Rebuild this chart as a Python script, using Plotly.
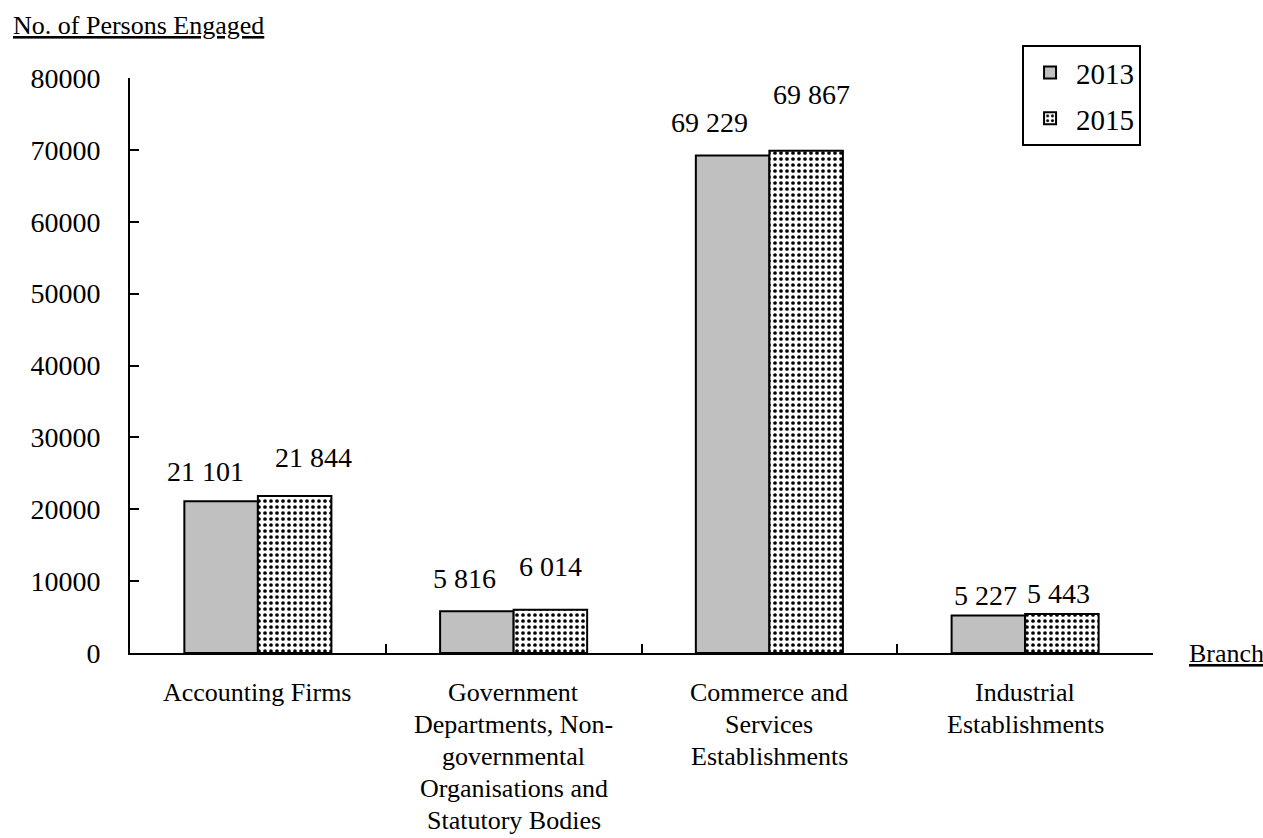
import plotly.graph_objects as go

# Persons engaged by branch, 2013 vs 2015
branches = [
    "Accounting Firms",
    "Government<br>Departments, Non-<br>governmental<br>Organisations and<br>Statutory Bodies",
    "Commerce and<br>Services<br>Establishments",
    "Industrial<br>Establishments",
]
branch_keys = ["Accounting", "Government", "Commerce", "Industrial"]
persons_2013 = [21101, 5816, 69229, 5227]
persons_2015 = [21844, 6014, 69867, 5443]
y_ticks = [0, 10000, 20000, 30000, 40000, 50000, 60000, 70000, 80000]

FONT = "Liberation Serif, Times New Roman, serif"

fig = go.Figure()
fig.add_trace(go.Bar(
    name="2013", x=branch_keys, y=persons_2013, legendgroup="a",
    marker=dict(color="#C0C0C0", line=dict(color="black", width=2)),
))
fig.add_trace(go.Bar(
    name="2015", x=branch_keys, y=persons_2015, legendgroup="b",
    marker=dict(
        color="white",
        line=dict(color="black", width=2),
        pattern=dict(shape=".", fgcolor="black", bgcolor="white",
                     size=6, solidity=0.3, fillmode="replace"),
    ),
))

# value labels above the bars (pixel nudges per label)
half = 36.7
dx13 = [-16, -12, -23, -3]
dx15 = [19, 0, 5, -3]
dy13 = [30, 33, 33, 20]
dy15 = [39, 43, 56, 20]
annotations = []
for i, k in enumerate(branch_keys):
    annotations.append(dict(
        x=k, y=persons_2013[i], xref="x", yref="y",
        text=f"{persons_2013[i]:,}".replace(",", " "),
        showarrow=False, xshift=-half + dx13[i], yshift=dy13[i],
        yanchor="middle", font=dict(family=FONT, size=28, color="black")))
    annotations.append(dict(
        x=k, y=persons_2015[i], xref="x", yref="y",
        text=f"{persons_2015[i]:,}".replace(",", " "),
        showarrow=False, xshift=half + dx15[i], yshift=dy15[i],
        yanchor="middle", font=dict(family=FONT, size=28, color="black")))

# multi-line category labels, one annotation per line
for k, label in zip(branch_keys, branches):
    for j, line in enumerate(label.split("<br>")):
        annotations.append(dict(
            x=k, y=0, xref="x", yref="y", text=line, showarrow=False,
            yanchor="middle", yshift=-39 - 32 * j,
            font=dict(family=FONT, size=26, color="black")))

annotations.append(dict(
    x=0, y=1, xref="paper", yref="paper", text="<u>No. of Persons Engaged</u>",
    showarrow=False, xanchor="left", yanchor="middle", xshift=-119, yshift=53,
    font=dict(family=FONT, size=26, color="black")))
annotations.append(dict(
    x=1, y=0, xref="paper", yref="paper", text="<u>Branch</u>",
    showarrow=False, xanchor="left", yanchor="middle", xshift=34, yshift=0,
    font=dict(family=FONT, size=26, color="black")))

fig.update_layout(
    width=1263, height=838,
    margin=dict(l=130, r=110, t=78, b=185),
    paper_bgcolor="white", plot_bgcolor="white",
    barmode="group", bargap=0.425, bargroupgap=0,
    font=dict(family=FONT, color="black"),
    annotations=annotations,
    legend=dict(
        x=0.872, y=1.057, xanchor="left", yanchor="top",
        bordercolor="black", borderwidth=2, bgcolor="white",
        font=dict(family=FONT, size=29, color="black"),
        itemwidth=42, tracegroupgap=5,
        entrywidth=134, entrywidthmode="pixels",
    ),
    xaxis=dict(
        showticklabels=False, showline=True, linecolor="black", linewidth=2,
        ticks="inside", tickson="boundaries", ticklen=9, tickwidth=2,
        tickcolor="black", showgrid=False, zeroline=False,
    ),
    yaxis=dict(
        range=[0, 80000], tickvals=y_ticks, tickformat="d",
        showline=True, linecolor="black", linewidth=2,
        ticks="inside", ticklen=9, tickwidth=2, tickcolor="black",
        showgrid=False, zeroline=False, ticklabelstandoff=22,
        tickfont=dict(family=FONT, size=28, color="black"),
    ),
)

fig.write_html("out.html")
